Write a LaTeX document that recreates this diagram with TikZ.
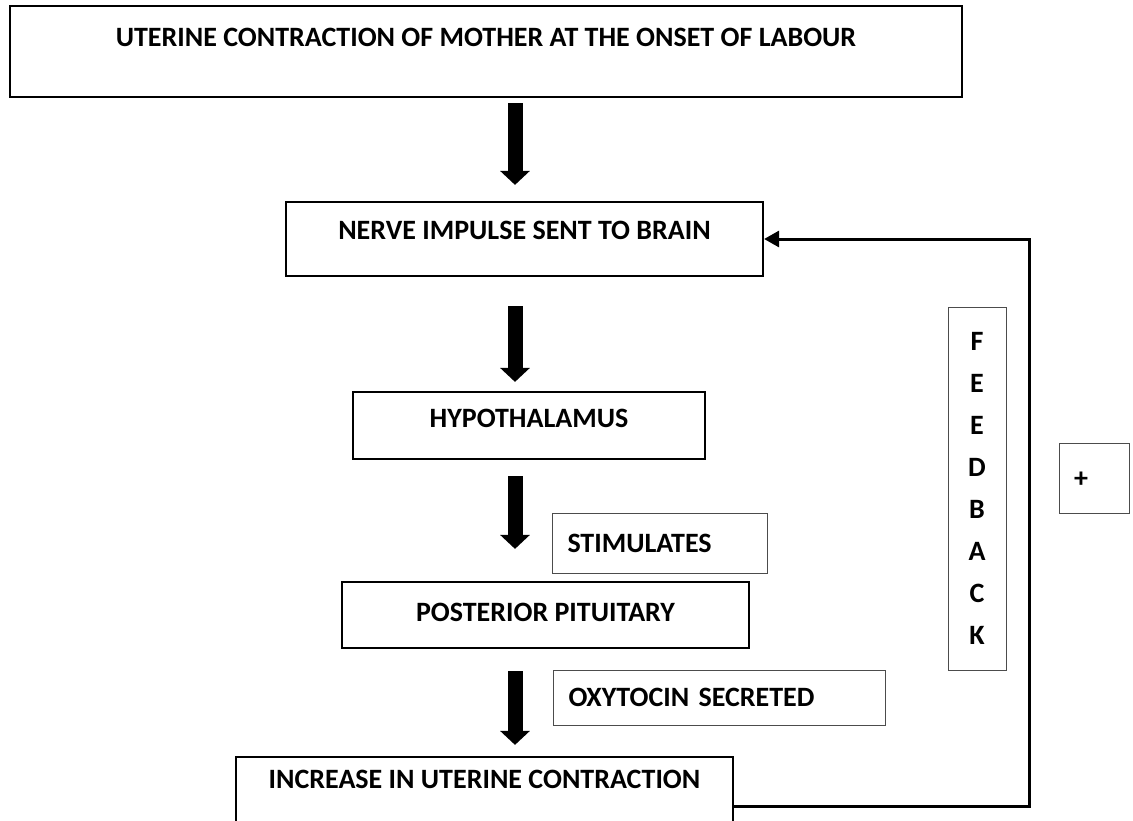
\documentclass[tikz,border=0pt]{standalone}
\usepackage{fontspec}
\setmainfont{Carlito}
\usetikzlibrary{arrows.meta,calc}

\begin{document}
\begin{tikzpicture}[x=1pt, y=-1pt, font=\fontsize{28}{34}\selectfont\bfseries,
	mainbox/.style={draw, line width=2.2pt, inner sep=0pt, text height=18pt},
	notebox/.style={draw=black!70, line width=1pt, align=left, inner xsep=15pt, inner ysep=0pt, text height=18pt, text depth=0pt},
	bigarrow/.style={line width=15pt, -{Triangle[length=14pt, width=29pt]}},
	fbline/.style={line width=3pt, -{Triangle[length=15pt, width=16pt]}}]
		\clip (0, 0) rectangle (1133, 820);

		\node[mainbox, minimum width=952pt, minimum height=91pt, text depth=29pt] (uterine) at (486, 51.5) {UTERINE CONTRACTION OF MOTHER AT THE ONSET OF LABOUR};
		\node[mainbox, minimum width=477pt, minimum height=74pt, text depth=18pt] (nerve) at (524.5, 239) {NERVE IMPULSE SENT TO BRAIN};
		\node[mainbox, minimum width=352pt, minimum height=67pt, text depth=15pt] (hypo) at (529, 425.5) {HYPOTHALAMUS};
		\node[mainbox, minimum width=407pt, minimum height=66pt, text depth=6pt] (posterior) at (545.5, 615) {POSTERIOR PITUITARY};
		\node[mainbox, minimum width=497pt, minimum height=98pt, text depth=54pt] (increase) at (484.5, 806) {INCREASE IN UTERINE CONTRACTION};

		\node[notebox, anchor=west, text width=185pt, minimum height=60pt] (stim) at (552, 543) {STIMULATES};
		\node[notebox, anchor=west, text width=302pt, minimum height=55pt] (oxy) at (553, 697.5) {OXYTOCIN SECRETED};
		\node[draw=black!70, line width=1pt, minimum width=58pt, minimum height=363pt, inner sep=0pt, align=center, font=\fontsize{28}{42}\selectfont\bfseries] (feedback) at (977, 488.5) {F\\E\\E\\D\\B\\A\\C\\K};
		\node[notebox, text width=40pt, minimum height=70pt] (plus) at (1094, 478) {+};

		\coordinate (ax) at (515, 0);
		\coordinate (fbx) at (1029, 0);

		\path ($(ax |- uterine.south)+(0, 5)$) edge[bigarrow] ($(ax |- nerve.north)+(0, -16)$);
		\path ($(ax |- nerve.south)+(0, 29)$) edge[bigarrow] ($(ax |- hypo.north)+(0, -9)$);
		\path ($(ax |- hypo.south)+(0, 16)$) edge[bigarrow] ($(ax |- posterior.north)+(0, -32)$);
		\path ($(ax |- posterior.south)+(0, 22)$) edge[bigarrow] ($(ax |- increase.north)+(0, -11)$);

		\draw[fbline] (increase.east) -- (increase.east -| fbx) -- (nerve.east -| fbx) -- (nerve.east);
	\end{tikzpicture}
\end{document}
